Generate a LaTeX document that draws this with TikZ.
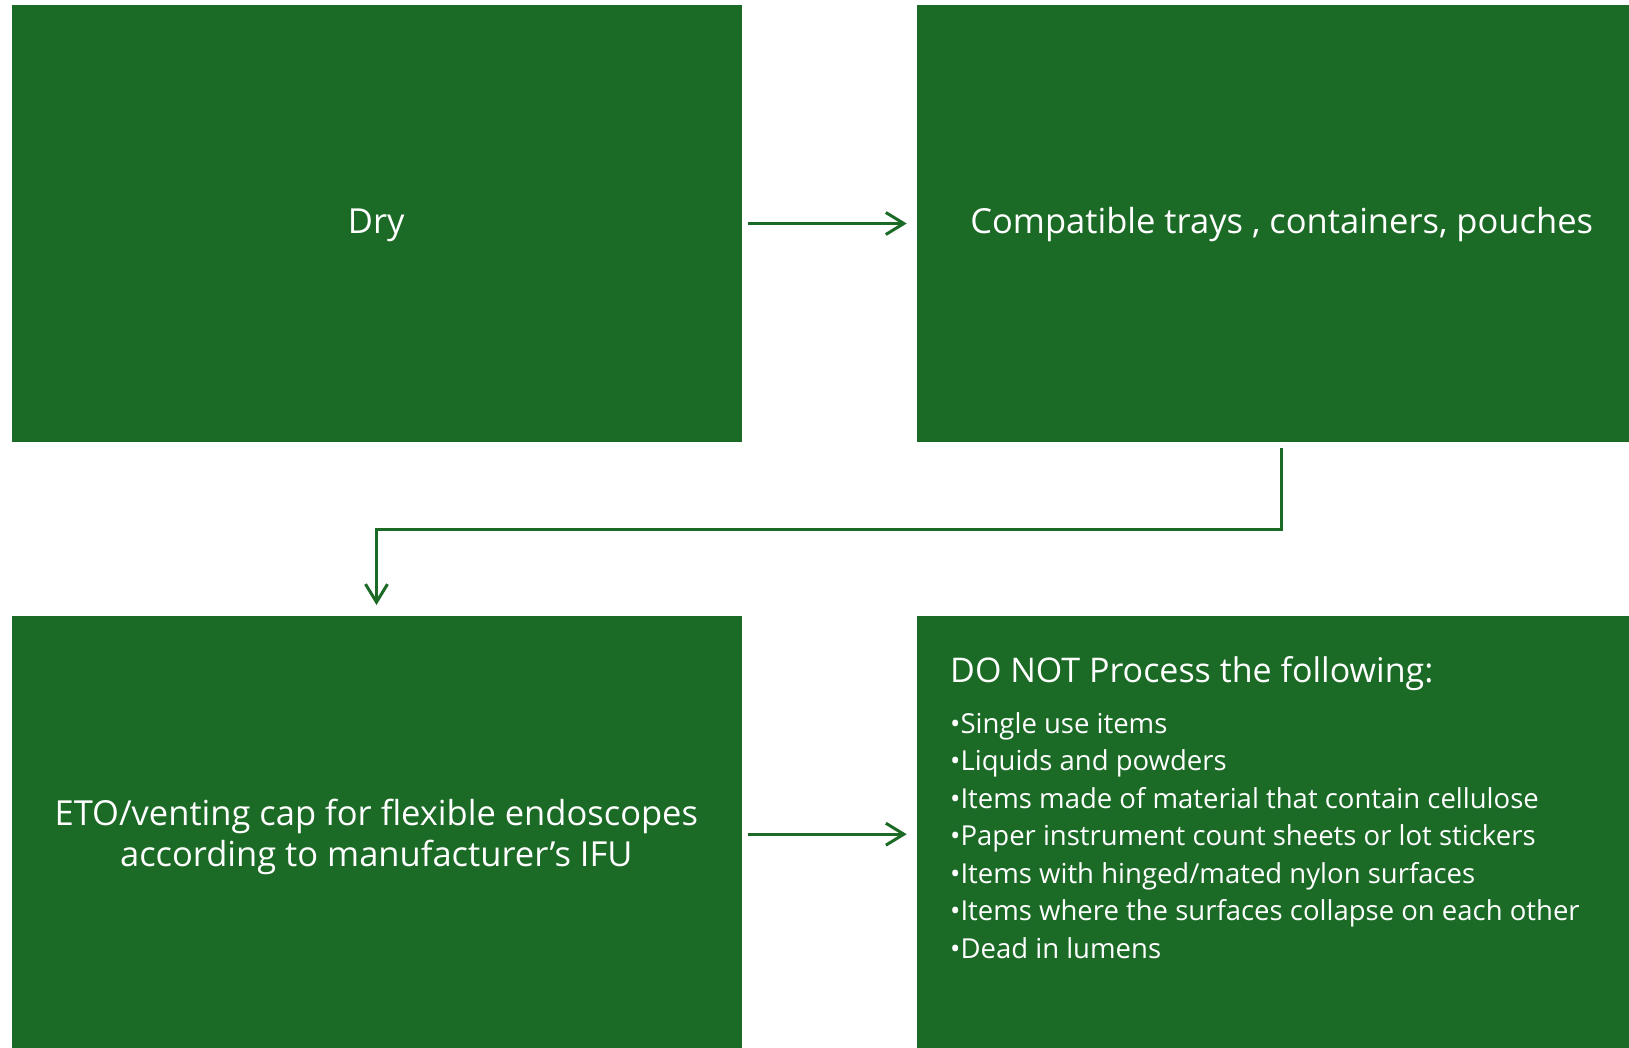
\documentclass[tikz,border=0pt]{standalone}
\usepackage{fontspec}
\setmainfont{Open Sans}
\usetikzlibrary{arrows.meta}
\definecolor{boxgreen}{RGB}{27,106,38}
\begin{document}
\begin{tikzpicture}[x=1pt,y=-1pt,
  box/.style={fill=boxgreen, draw=none, minimum width=730pt, minimum height=436pt, inner sep=0pt, anchor=north west},
  lbl/.style={text=white, font=\fontsize{34.5}{42}\selectfont, inner sep=0pt, anchor=base},
  hdr/.style={text=white, font=\fontsize{34}{40}\selectfont, inner sep=0pt, anchor=base west},
  itm/.style={text=white, font=\fontsize{27.5}{33}\selectfont, inner sep=0pt, anchor=base west},
  conn/.style={draw=boxgreen, line width=3pt, -{Straight Barb[length=18pt,width=22pt,line width=3pt]}}]
\useasboundingbox (0,0) rectangle (1629,1048);
\clip (0,0) rectangle (1629,1048);
\node[box] (b1) at (11.3,5.3) {};
\node[box] (b2) at (916.7,5.3) {};
\node[box] (b3) at (11.3,616) {};
\node[box] (b4) at (916.7,616) {};
\node[lbl] (t1) at (376.3,234) {Dry};
\node[lbl] (t2) at (1281.7,234) {Compatible trays , containers, pouches};
\node[lbl] (t3a) at (376.3,825) {ETO/venting cap for flexible endoscopes};
\node[lbl] (t3b) at (376.3,866) {according to manufacturer’s IFU};
\node[hdr] (t4h) at (950,682) {DO NOT Process the following:};
\node[itm] (i1) at (950,733) {•Single use items};
\node[itm] (i2) at (950,770.5) {•Liquids and powders};
\node[itm] (i3) at (950,808) {•Items made of material that contain cellulose};
\node[itm] (i4) at (950,845.5) {•Paper instrument count sheets or lot stickers};
\node[itm] (i5) at (950,883) {•Items with hinged/mated nylon surfaces};
\node[itm] (i6) at (950,920.5) {•Items where the surfaces collapse on each other};
\node[itm] (i7) at (950,958) {•Dead in lumens};
\draw[conn, shorten <=6pt, shorten >=10pt] (b1.east) -- (b2.west);
\draw[conn, shorten <=6pt, shorten >=10pt] (b3.east) -- (b4.west);
\draw[conn, shorten <=6pt, shorten >=11pt] (b2.south) -- ++(0,88) -| (b3.north);
\end{tikzpicture}
\end{document}
